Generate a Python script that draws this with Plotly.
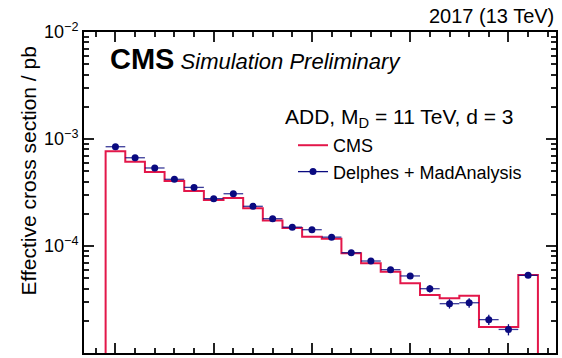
import plotly.graph_objects as go

# Bin index of each measured interval (22 bins, unit width)
bin_centers = list(range(22))
bin_edges = [c - 0.5 for c in bin_centers] + [bin_centers[-1] + 0.5]

# Effective cross section per bin [pb]
cms_xsec = [7.67e-4, 6.14e-4, 4.92e-4, 4.05e-4, 3.27e-4, 2.69e-4, 2.81e-4, 2.25e-4,
            1.73e-4, 1.47e-4, 1.22e-4, 1.17e-4, 8.55e-5, 6.89e-5, 5.75e-5, 4.48e-5,
            3.48e-5, 3.24e-5, 3.43e-5, 1.75e-5, 1.75e-5, 5.36e-5]
delphes_xsec = [8.47e-4, 6.68e-4, 5.36e-4, 4.20e-4, 3.53e-4, 2.77e-4, 3.08e-4, 2.35e-4,
                1.80e-4, 1.50e-4, 1.42e-4, 1.21e-4, 8.65e-5, 7.24e-5, 6.01e-5, 5.25e-5,
                3.99e-5, 2.89e-5, 2.95e-5, 2.05e-5, 1.66e-5, 5.32e-5]
# Relative statistical uncertainty of the Delphes + MadAnalysis points
delphes_relerr = [0.03, 0.03, 0.03, 0.03, 0.04, 0.04, 0.04, 0.04,
                  0.04, 0.04, 0.04, 0.05, 0.05, 0.05, 0.06, 0.06,
                  0.08, 0.10, 0.10, 0.11, 0.12, 0.05]

y_tick_vals = [1e-5, 1e-4, 1e-3, 1e-2]
y_tick_text = ["10<sup>\u22125</sup>", "10<sup>\u22124</sup>",
               "10<sup>\u22123</sup>", "10<sup>\u22122</sup>"]
BASELINE = 1e-7  # histogram floor, below the visible range

RED = "#e3174a"
NAVY = "#0a0a80"
FONT = "Liberation Sans"

# Step outline for the CMS histogram
step_x = [bin_edges[0]] + bin_edges[:-1] + [bin_edges[-1]]
step_y = [BASELINE] + cms_xsec + [BASELINE]

# Points separated by gaps: no connecting line, but the legend keeps a bar sample
pts_x, pts_y, pts_err = [], [], []
for c, v, e in zip(bin_centers, delphes_xsec, delphes_relerr):
    pts_x += [c, None]
    pts_y += [v, None]
    pts_err += [v * e, None]

fig = go.Figure()
fig.add_trace(go.Scatter(
    x=step_x, y=step_y, mode="lines", line=dict(shape="hv", color=RED, width=2),
    name="CMS",
))
fig.add_trace(go.Scatter(
    x=pts_x, y=pts_y, mode="lines+markers", name="Delphes + MadAnalysis",
    connectgaps=False,
    line=dict(color=NAVY, width=1.3),
    marker=dict(color=NAVY, size=7),
    error_x=dict(type="constant", value=0.5, color="rgba(10,10,128,0.8)",
                 thickness=1.3, width=0),
    error_y=dict(type="data", array=pts_err, color=NAVY, thickness=1.3, width=0),
))

minor_y = [k * 10 ** e for e in range(-5, -2) for k in range(2, 10)]
major_x = list(range(0, 25, 5))
minor_x = [v for v in range(-1, 23) if v not in major_x]

X_RANGE = [-1.6, 22.42]

tick_style = dict(ticks="inside", tickcolor="#222222", tickwidth=1.6, ticklen=10)
minor_style = dict(ticks="inside", tickcolor="#222222", tickwidth=1.6, ticklen=5,
                   tickmode="array")

fig.update_layout(
    width=562, height=358,
    margin=dict(l=84, r=6, t=32, b=5),
    paper_bgcolor="white", plot_bgcolor="white",
    font=dict(family=FONT, color="black"),
    showlegend=True,
    legend=dict(x=0.4428, y=0.704, xanchor="left", yanchor="top",
                font=dict(size=18, family=FONT), bgcolor="rgba(0,0,0,0)"),
    xaxis=dict(
        range=X_RANGE, showgrid=False, zeroline=False,
        showline=True, linecolor="black", linewidth=2, mirror=True,
        tickmode="array", tickvals=major_x, showticklabels=False, **tick_style,
        minor=dict(tickvals=minor_x, **minor_style),
    ),
    xaxis2=dict(
        overlaying="x", side="top", range=X_RANGE, showgrid=False, zeroline=False,
        showline=False, tickmode="array", tickvals=major_x, showticklabels=False,
        **tick_style, minor=dict(tickvals=minor_x, **minor_style),
    ),
    yaxis=dict(
        type="log", range=[-5, -2], showgrid=False, zeroline=False,
        showline=True, linecolor="black", linewidth=2, mirror=True,
        tickmode="array", tickvals=y_tick_vals, ticktext=y_tick_text,
        tickfont=dict(size=18, family=FONT), **tick_style,
        minor=dict(tickvals=minor_y, **minor_style),
    ),
    yaxis2=dict(
        type="log", overlaying="y", side="right", range=[-5, -2], showgrid=False,
        zeroline=False, showline=False, tickmode="array", tickvals=y_tick_vals,
        showticklabels=False, **tick_style,
        minor=dict(tickvals=minor_y, **minor_style),
    ),
)

# Invisible carrier so the top/right tick axes are drawn
fig.add_trace(go.Scatter(x=[bin_centers[0]], y=[delphes_xsec[0]], xaxis="x2", yaxis="y2",
                         mode="markers", marker=dict(opacity=0), showlegend=False,
                         hoverinfo="skip"))

fig.add_annotation(
    text="Effective cross section / pb", textangle=-90,
    xref="paper", yref="paper", x=-0.1186, y=0.9595, xanchor="center", yanchor="top",
    showarrow=False, font=dict(size=21, family=FONT),
)
fig.add_annotation(
    text="2017 (13 TeV)", xref="paper", yref="paper", x=1.0, y=1.05,
    xanchor="right", yanchor="middle", showarrow=False, font=dict(size=20, family=FONT),
)
fig.add_annotation(
    text="<b>CMS</b><i><span style='font-size:22px'> Simulation Preliminary</span></i>",
    xref="paper", yref="paper", x=0.0508, y=0.9174, xanchor="left", yanchor="middle",
    showarrow=False, font=dict(size=29, family=FONT),
)
fig.add_annotation(
    text="ADD, M<sub>D</sub> = 11 TeV, d = 3",
    xref="paper", yref="paper", x=0.4216, y=0.732, xanchor="left", yanchor="middle",
    showarrow=False, font=dict(size=21, family=FONT),
)

fig.write_html("out.html")
